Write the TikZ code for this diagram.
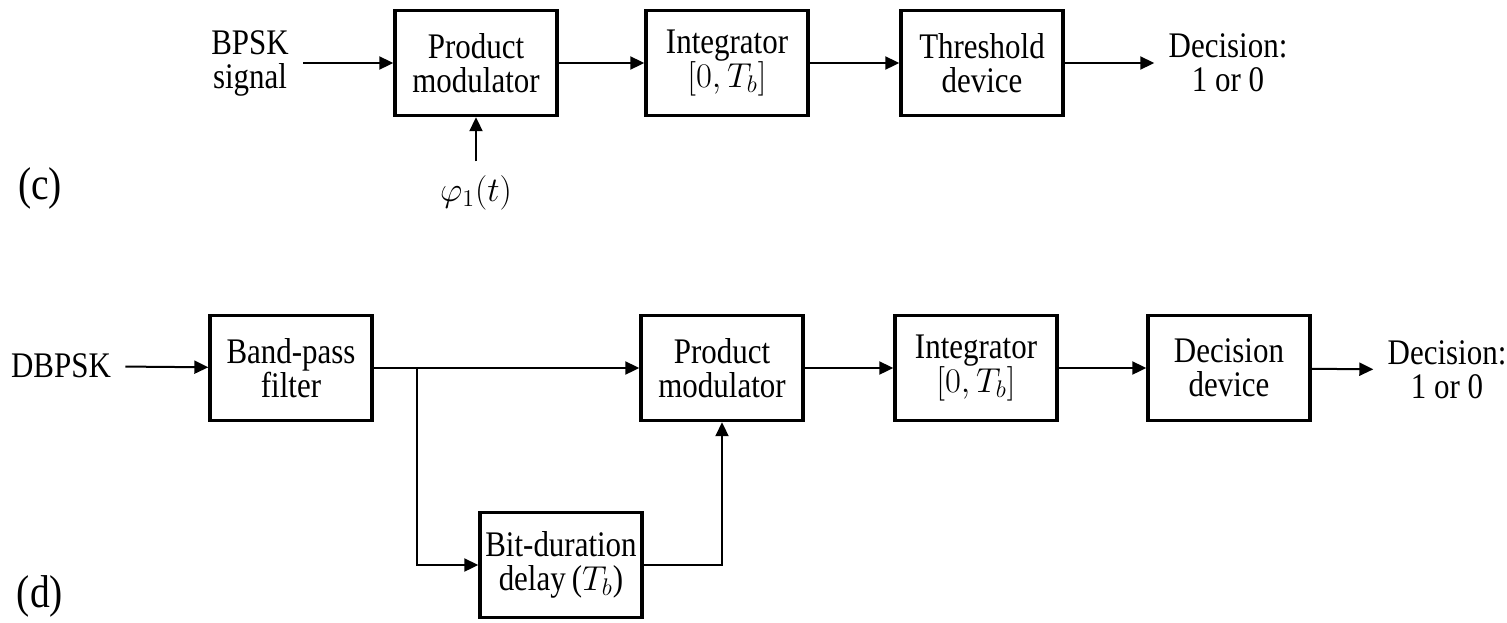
\documentclass[tikz,border=0pt]{standalone}
\usepackage{amsmath,amssymb}
\usepackage{fontspec}
\setmainfont{Liberation Serif}[FakeStretch=0.86]
\usetikzlibrary{arrows.meta}

\begin{document}
\begin{tikzpicture}[x=0.5pt,y=-0.5pt,
 blok/.style={draw,line width=1.7pt,minimum width=81pt,minimum height=52.5pt,align=center,inner sep=2pt},
 txt/.style={align=center,inner sep=7pt},
 strel/.style={-{Triangle[length=7pt,width=6.5pt]},line width=1pt},
 font=\fontsize{18}{17}\selectfont]
\useasboundingbox (0,0) rectangle (1507,622);

% (c) BPSK
\node [txt] (in1) at (250,63) {BPSK\\signal};
\node [blok] (pm1) at (476,63) {Product\\modulator};
\node [blok] (int1) at (727,63) {Integrator\\$[0,T_b]$};
\node [blok] (thr1) at (982,63) {Threshold\\device};
\node [txt] (dec1) at (1228,63) {Decision:\\1 or 0};
\node [txt] (phi) at (476,193) {$\varphi_1(t)$};
\node [font=\fontsize{23}{24}\selectfont] (lc) at (40,188) {(c)};

\draw [strel] (in1) -- (pm1);
\draw [strel] (pm1) -- (int1);
\draw [strel] (int1) -- (thr1);
\draw [strel] (thr1) -- (dec1);
\draw [strel] (phi) -- (pm1);

% (d) DBPSK
\node [txt] (in2) at (61,366) {DBPSK};
\node [blok] (bp) at (291,368) {Band-pass\\filter};
\node [blok] (pm2) at (722,368) {Product\\modulator};
\node [blok] (int2) at (976,368) {Integrator\\$[0,T_b]$};
\node [blok] (dd) at (1229,368) {Decision\\device};
\node [txt] (dec2) at (1447,370) {Decision:\\1 or 0};
\node [blok] (dl) at (561,565) {Bit-duration\\delay\,($T_b$)};
\node [font=\fontsize{23}{24}\selectfont] (ld) at (40,596) {(d)};
\coordinate (br) at (417,368);

\draw [strel] (in2) -- (bp);
\draw [strel] (bp) -- (pm2);
\draw [strel] (pm2) -- (int2);
\draw [strel] (int2) -- (dd);
\draw [strel] (dd) -- (dec2);
\draw [strel] (br) |- (dl);
\draw [strel] (dl) -| (pm2);
\end{tikzpicture}
\end{document}
